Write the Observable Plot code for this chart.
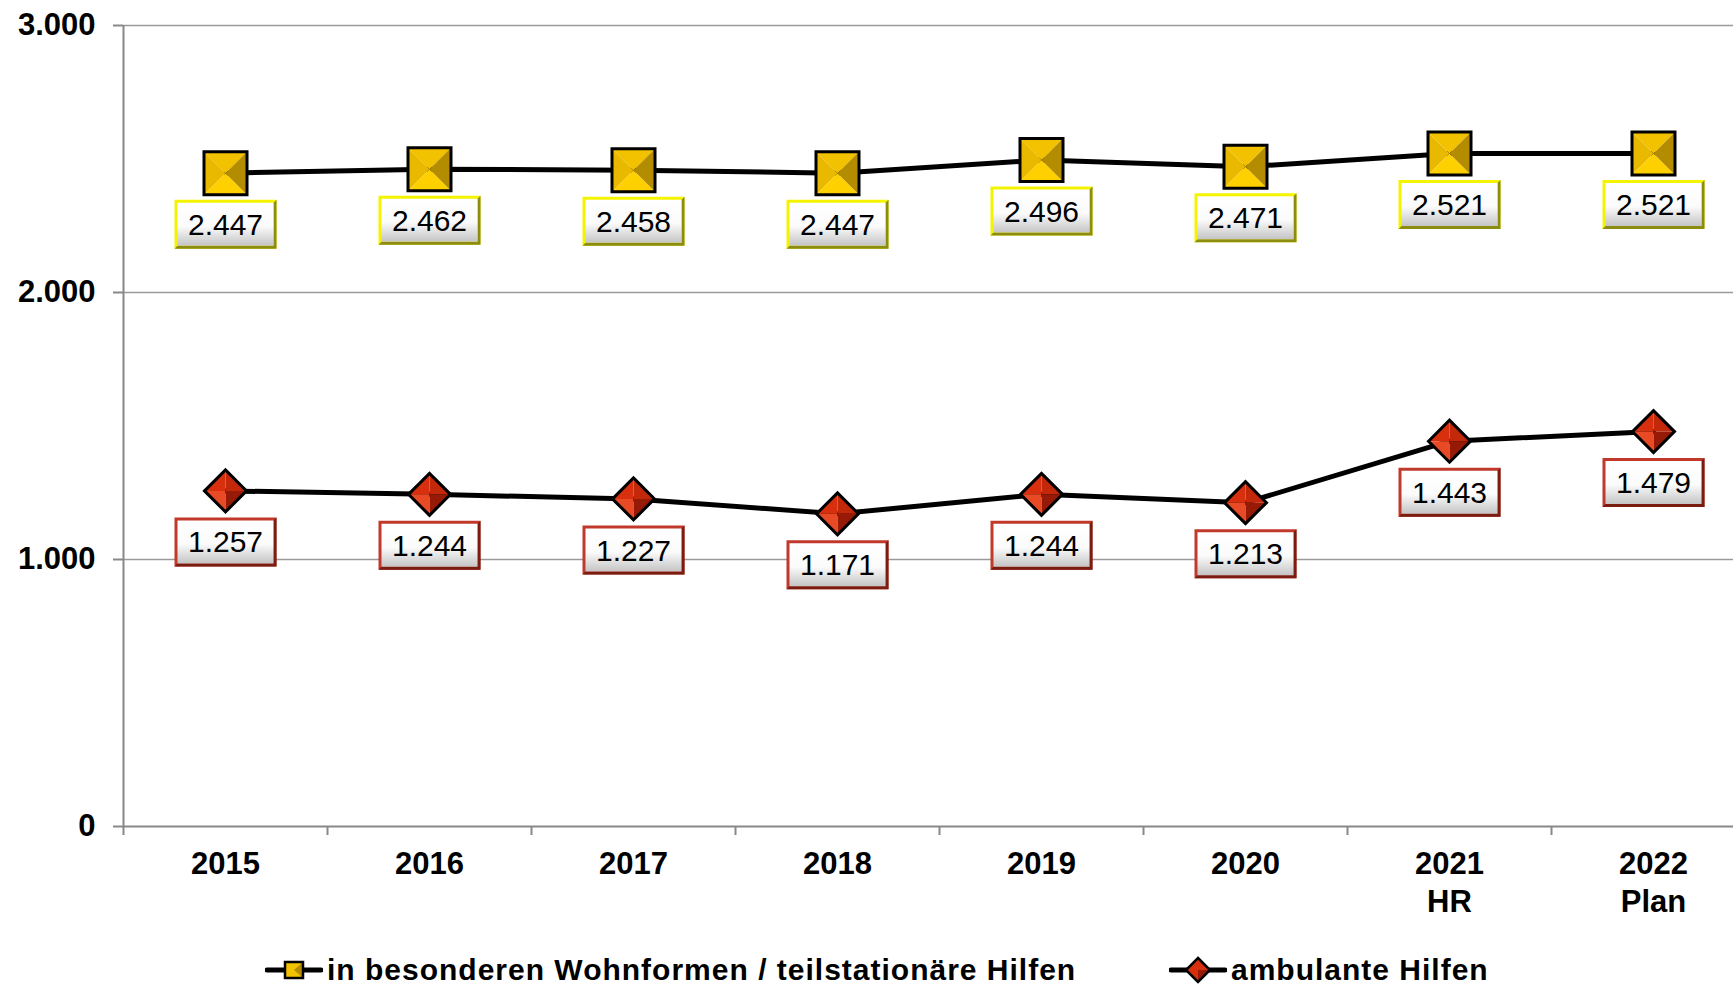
<!DOCTYPE html>
<html><head><meta charset="utf-8">
<script src="https://cdn.jsdelivr.net/npm/d3@7"></script>
<script src="https://cdn.jsdelivr.net/npm/@observablehq/plot@0.6"></script>
<style>
html,body{margin:0;padding:0;background:#fff;overflow:hidden;width:1733px;height:986px}
#wrap{position:relative;width:1733px;height:986px;font-family:"Liberation Sans",Arial,sans-serif}
#chart{position:absolute;left:0;top:0}
#legend{position:absolute;left:0;top:930px;width:1733px;height:56px}
.item{position:absolute;top:0;height:80px;display:flex;align-items:center;font-weight:bold;font-size:30px;letter-spacing:1px;color:#000;white-space:nowrap}
.item svg{margin-right:4px}
</style></head><body>
<svg width="0" height="0" style="position:absolute">
<defs>
<linearGradient id="boxGrad" x1="0" y1="0" x2="0" y2="1">
<stop offset="0" stop-color="#ffffff"/><stop offset="0.55" stop-color="#fbfbfb"/><stop offset="1" stop-color="#c4c4c4"/>
</linearGradient>
</defs></svg>
<div id="wrap"><div id="chart"></div><div id="legend"></div></div>
<script>
// ---- data ----
const categories = ["2015","2016","2017","2018","2019","2020","2021\nHR","2022\nPlan"];
const wohnformen = [2447,2462,2458,2447,2496,2471,2521,2521];
const ambulant = [1257,1244,1227,1171,1244,1213,1443,1479];
const yTicks = [0,1000,2000,3000];
const seriesNames = ["in besonderen Wohnformen / teilstationäre Hilfen","ambulante Hilfen"];

const de = d3.formatLocale({decimal:",", thousands:".", grouping:[3], currency:["","€"]});
const fmt = de.format(",d");

const rowsW = wohnformen.map((v,i)=>({i, value:v, series:seriesNames[0]}));
const rowsA = ambulant.map((v,i)=>({i, value:v, series:seriesNames[1]}));

// ---- custom symbols (shapes only) ----
const sym = fn => ({draw(c){ fn(c); }});
const S = 21.5;
const poly = pts => sym(c => { c.moveTo(pts[0][0],pts[0][1]); for (const p of pts.slice(1)) c.lineTo(p[0],p[1]); c.closePath(); });
const sqTop = poly([[-S,-S],[S,-S],[0,0]]);
const sqRight = poly([[S,-S],[S,S],[0,0]]);
const sqBottom = poly([[S,S],[-S,S],[0,0]]);
const sqLeft = poly([[-S,S],[-S,-S],[0,0]]);
const sqOutline = poly([[-S,-S],[S,-S],[S,S],[-S,S]]);
const D = 21;
const dTL = poly([[-D,0],[0,-D],[0,0]]);
const dTR = poly([[0,-D],[D,0],[0,0]]);
const dBR = poly([[D,0],[0,D],[0,0]]);
const dBL = poly([[0,D],[-D,0],[0,0]]);
const dOutline = poly([[-D,0],[0,-D],[D,0],[0,D]]);
const BW = 51, BH = 24.5;
const boxOuter = poly([[-BW,-BH],[BW,-BH],[BW,BH],[-BW,BH]]);
const boxInner = poly([[-BW+3,-BH+3],[BW-3,-BH+3],[BW-3,BH-3],[-BW+3,BH-3]]);
const boxShade = poly([[BW,-BH],[BW,BH],[-BW,BH],[-BW+3,BH-3],[BW-3,BH-3],[BW-3,-BH+3]]);

const LABEL_DY = 51;
function labelMarks(rows, light, dark){
  return [
    Plot.dot(rows, {x:"i", y:"value", dy:LABEL_DY, symbol:boxOuter, r:10, fill:light, stroke:"none"}),
    Plot.dot(rows, {x:"i", y:"value", dy:LABEL_DY, symbol:boxShade, r:10, fill:dark, stroke:"none"}),
    Plot.dot(rows, {x:"i", y:"value", dy:LABEL_DY, symbol:boxInner, r:10, fill:"url(#boxGrad)", stroke:"none"}),
    Plot.text(rows, {x:"i", y:"value", dy:LABEL_DY+1, text:d=>fmt(d.value), fontSize:30, fontWeight:"normal", fill:"#000"})
  ];
}

const chart = Plot.plot({
  width:1733, height:930,
  marginLeft:123, marginRight:0, marginTop:25, marginBottom:104,
  x:{type:"linear", domain:[-0.5,7.5], range:[123,1755]},
  y:{domain:[0,3000], range:[826,25]},
  style:{fontFamily:"'Liberation Sans', Arial, sans-serif", background:"white", overflow:"visible"},
  marks:[
    Plot.ruleY(yTicks.slice(1), {stroke:"#9a9a9a", strokeWidth:1.5}),
    Plot.ruleY([0], {stroke:"#888", strokeWidth:2}),
    Plot.ruleX([-0.5], {stroke:"#888", strokeWidth:2}),
    Plot.axisY({ticks:yTicks, tickSize:10, tickPadding:18, tickFormat:fmt, fontSize:31, fontWeight:"bold", stroke:"#888", strokeWidth:2, label:null}),
    Plot.axisX({ticks:d3.range(categories.length+1).map(k=>k-0.5), tickSize:9, tickFormat:()=>"", stroke:"#888", strokeWidth:2, label:null}),
    Plot.axisX({ticks:d3.range(categories.length), tickSize:0, tickPadding:21, tickFormat:k=>categories[k], fontSize:31, fontWeight:"bold", lineHeight:1.226, label:null}),
    Plot.line(rowsW, {x:"i", y:"value", stroke:"#000", strokeWidth:5}),
    Plot.line(rowsA, {x:"i", y:"value", stroke:"#000", strokeWidth:5}),
    // yellow square markers
    Plot.dot(rowsW, {x:"i", y:"value", symbol:sqTop, r:10, fill:"#f2c200", stroke:"none"}),
    Plot.dot(rowsW, {x:"i", y:"value", symbol:sqLeft, r:10, fill:"#e9b900", stroke:"none"}),
    Plot.dot(rowsW, {x:"i", y:"value", symbol:sqBottom, r:10, fill:"#ffd000", stroke:"none"}),
    Plot.dot(rowsW, {x:"i", y:"value", symbol:sqRight, r:10, fill:"#b38c00", stroke:"none"}),
    Plot.dot(rowsW, {x:"i", y:"value", symbol:sqOutline, r:10, fill:"none", stroke:"#000", strokeWidth:3}),
    // red diamond markers
    Plot.dot(rowsA, {x:"i", y:"value", symbol:dTL, r:10, fill:"#d8300e", stroke:"none"}),
    Plot.dot(rowsA, {x:"i", y:"value", symbol:dTR, r:10, fill:"#c4280a", stroke:"none"}),
    Plot.dot(rowsA, {x:"i", y:"value", symbol:dBL, r:10, fill:"#e84a26", stroke:"none"}),
    Plot.dot(rowsA, {x:"i", y:"value", symbol:dBR, r:10, fill:"#961a06", stroke:"none"}),
    Plot.dot(rowsA, {x:"i", y:"value", symbol:dOutline, r:10, fill:"none", stroke:"#000", strokeWidth:3}),
    ...labelMarks(rowsW, "#f4f400", "#8c8c10"),
    ...labelMarks(rowsA, "#c0392b", "#7a1c10")
  ]
});
document.getElementById("chart").appendChild(chart);

// ---- legend ----
const legend = document.getElementById("legend");
const icons = [
  `<svg width="58" height="30" viewBox="0 0 58 30"><line x1="2" y1="15" x2="56" y2="15" stroke="#000" stroke-width="5" stroke-linecap="round"/>
   <rect x="20" y="7" width="18" height="16" fill="#f2c200"/><polygon points="38,7 38,23 29,15" fill="#b38c00"/><rect x="20" y="7" width="18" height="16" fill="none" stroke="#000" stroke-width="2.5"/></svg>`,
  `<svg width="58" height="30" viewBox="0 0 58 30"><line x1="2" y1="15" x2="56" y2="15" stroke="#000" stroke-width="5" stroke-linecap="round"/>
   <polygon points="29,3 41,15 29,27 17,15" fill="#d8300e"/><polygon points="41,15 29,27 29,15" fill="#961a06"/><polygon points="29,3 41,15 29,27 17,15" fill="none" stroke="#000" stroke-width="2.5"/></svg>`
];
const lefts = [265, 1169];
seriesNames.forEach((name,k)=>{
  const d = document.createElement("div");
  d.className = "item";
  d.style.left = lefts[k] + "px";
  d.innerHTML = icons[k] + "<span>" + name + "</span>";
  legend.appendChild(d);
});
</script>
</body></html>
